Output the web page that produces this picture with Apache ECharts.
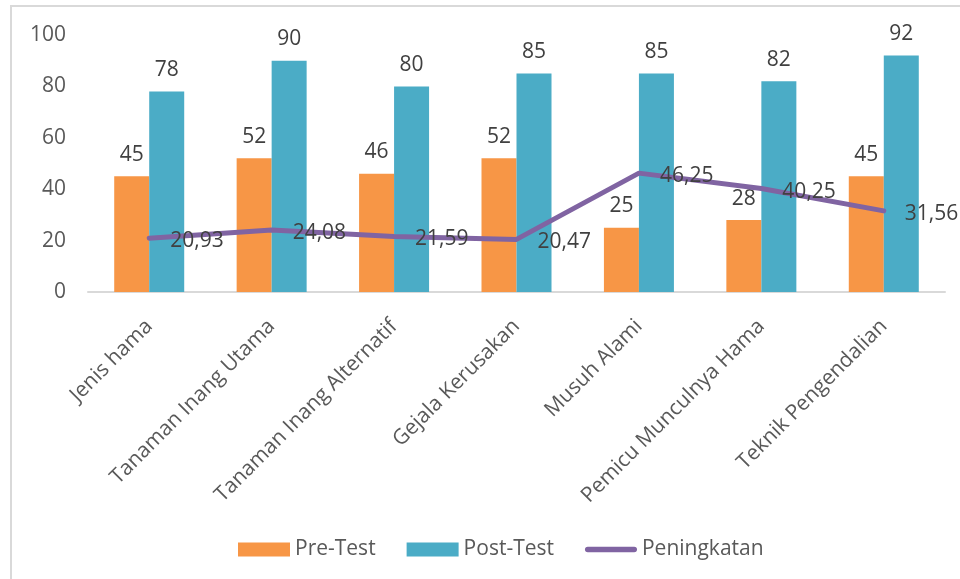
<!DOCTYPE html>
<html>
<head>
<meta charset="utf-8">
<script src="https://cdn.jsdelivr.net/npm/echarts@6/dist/echarts.min.js"></script>
<style>
  html, body { margin: 0; padding: 0; background: #fff; }
  #chart { width: 960px; height: 579px; }
</style>
</head>
<body>
<div id="chart"></div>
<script>
var categories = ['Jenis hama', 'Tanaman Inang Utama', 'Tanaman Inang Alternatif', 'Gejala Kerusakan', 'Musuh Alami', 'Pemicu Munculnya Hama', 'Teknik Pengendalian'];
var preTest = [45, 52, 46, 52, 25, 28, 45];
var postTest = [78, 90, 80, 85, 85, 82, 92];
var peningkatan = [20.93, 24.08, 21.59, 20.47, 46.25, 40.25, 31.56];
var yTicks = [0, 20, 40, 60, 80, 100];

var fontFam = '"Open Sans", sans-serif';
var myChart = echarts.init(document.getElementById('chart'));

var option = {
    textStyle: { fontFamily: fontFam },
    animation: false,
    graphic: [{
        type: 'rect',
        shape: { x: 11, y: 6, width: 1000, height: 700 },
        style: { fill: 'none', stroke: '#d9d9d9', lineWidth: 2 },
        silent: true
    }],
    grid: { left: 88, right: 15, top: 35, bottom: 287 },
    legend: {
        top: 534,
        left: 233,
        itemWidth: 52,
        itemHeight: 14,
        itemGap: 31,
        textStyle: { fontFamily: fontFam, fontSize: 21, color: '#595959' },
        data: [
            { name: 'Pre-Test', icon: 'rect' },
            { name: 'Post-Test', icon: 'rect' },
            { name: 'Peningkatan', icon: 'path://M3,0 L53,0 A3,3 0 0 1 53,6 L3,6 A3,3 0 0 1 3,0 Z' }
        ]
    },
    xAxis: {
        type: 'category',
        data: categories,
        axisLine: { lineStyle: { color: '#d9d9d9', width: 2 } },
        axisTick: { show: false },
        axisLabel: {
            rotate: 45,
            interval: 0,
            margin: 31,
            fontFamily: fontFam,
            fontSize: 21,
            color: '#595959'
        }
    },
    yAxis: {
        type: 'value',
        min: yTicks[0],
        max: yTicks[yTicks.length - 1],
        interval: 20,
        axisLine: { show: false },
        axisTick: { show: false },
        splitLine: { show: false },
        axisLabel: { margin: 22, fontFamily: fontFam, fontSize: 21, color: '#595959' }
    },
    series: [
        {
            name: 'Pre-Test',
            type: 'bar',
            data: preTest,
            barWidth: 35,
            barGap: '0%',
            itemStyle: { color: '#F79646' },
            label: { show: true, position: 'top', distance: 11, fontSize: 21, color: '#404040', fontFamily: fontFam }
        },
        {
            name: 'Post-Test',
            type: 'bar',
            data: postTest,
            barWidth: 35,
            barGap: '0%',
            itemStyle: { color: '#4BACC6' },
            label: { show: true, position: 'top', distance: 11, fontSize: 21, color: '#404040', fontFamily: fontFam }
        },
        {
            name: 'Peningkatan',
            type: 'line',
            data: peningkatan,
            symbol: 'circle',
            symbolSize: 0.01,
            showSymbol: true,
            lineStyle: { color: '#8064A2', width: 5, cap: 'round', join: 'round' },
            itemStyle: { color: '#8064A2' },
            label: {
                show: true,
                position: 'right',
                distance: 21,
                offset: [0, 3],
                fontSize: 21,
                color: '#404040',
                fontFamily: fontFam,
                formatter: function (p) { return p.value.toFixed(2).replace('.', ','); }
            },
            z: 5
        }
    ]
};
myChart.setOption(option);
</script>
</body>
</html>
